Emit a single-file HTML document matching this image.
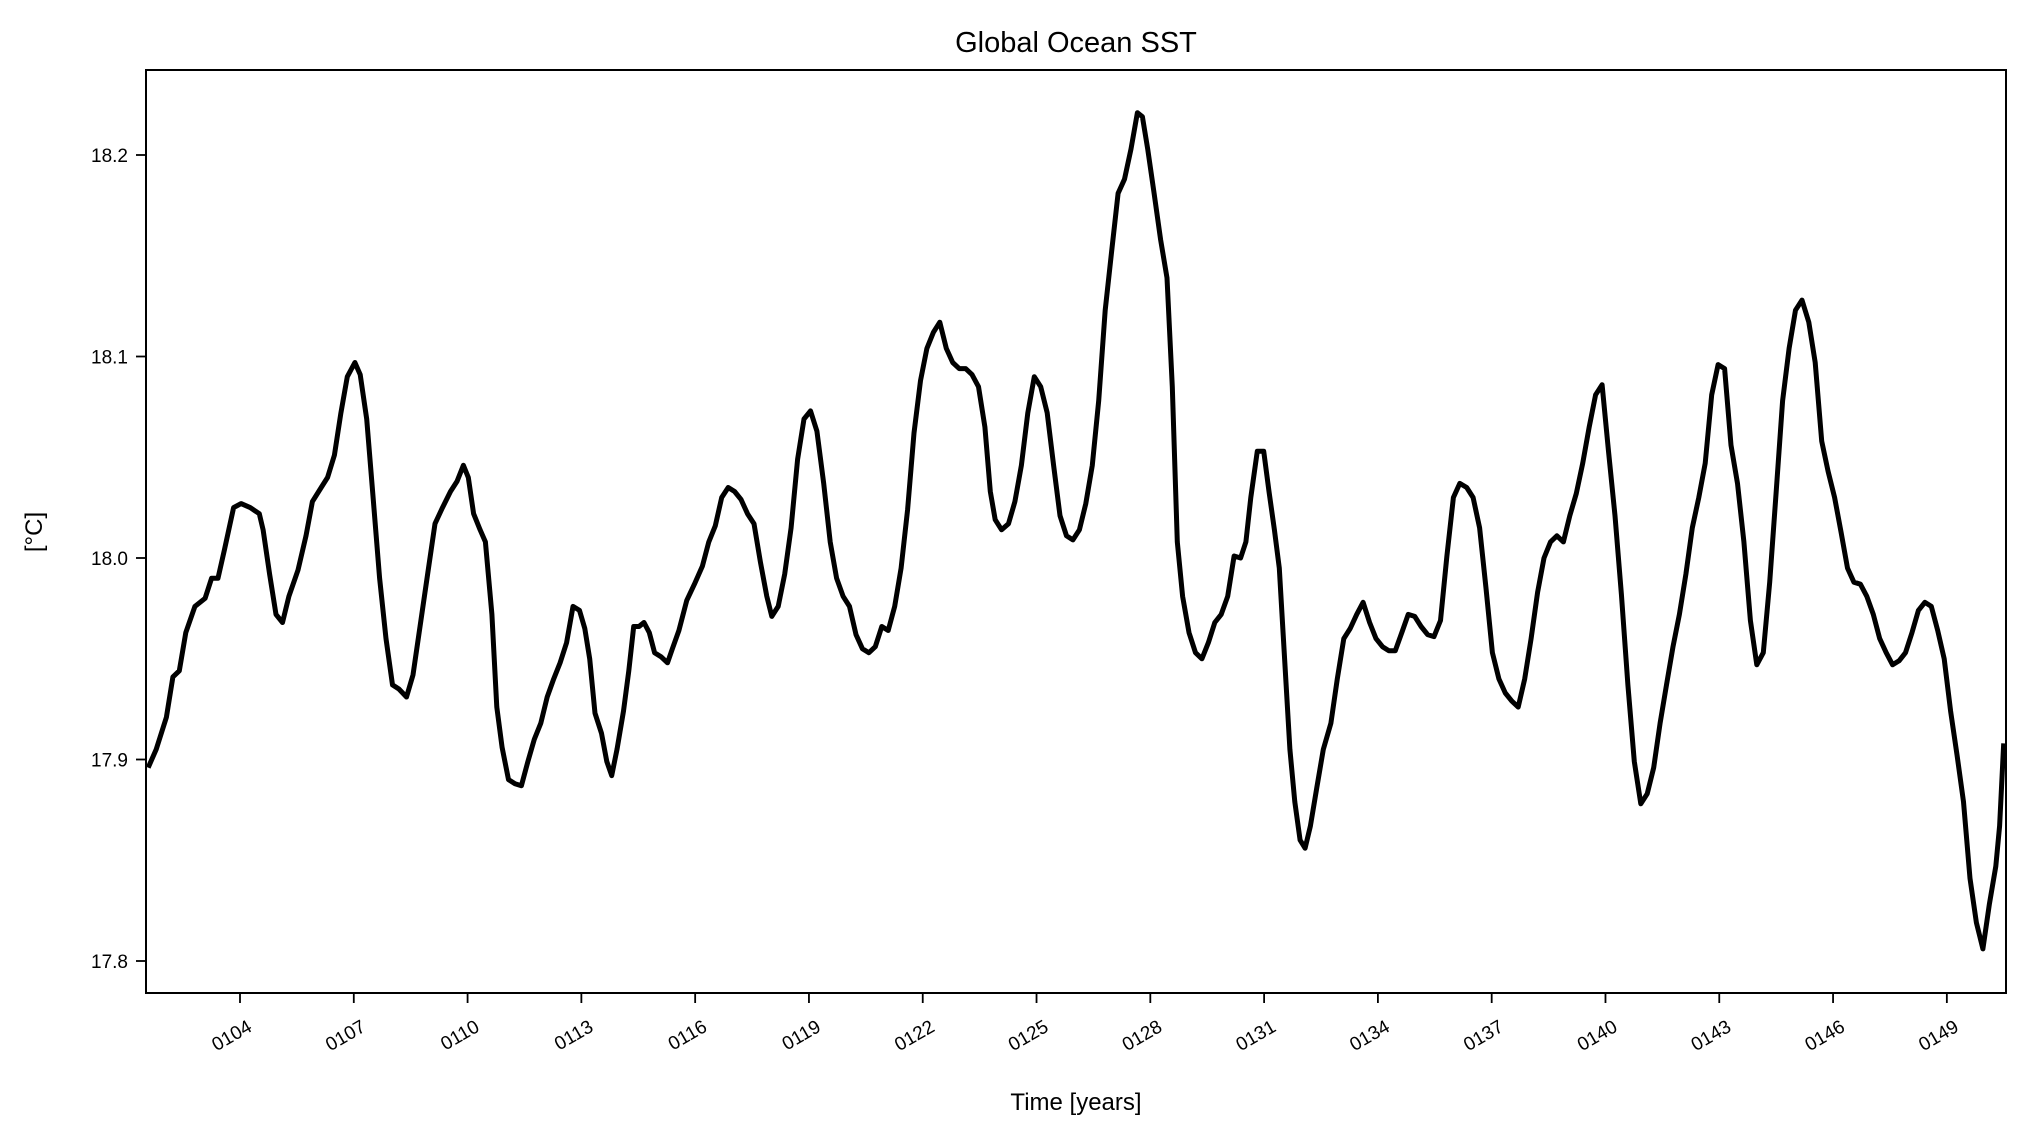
<!DOCTYPE html>
<html><head><meta charset="utf-8"><style>
html,body{margin:0;padding:0;background:#fff;}
svg{display:block;font-family:"Liberation Sans","DejaVu Sans",sans-serif;}
</style></head><body>
<svg id="chart" width="2026" height="1137" viewBox="0 0 2026 1137" xmlns="http://www.w3.org/2000/svg">
<rect width="2026" height="1137" fill="#fff"/>
<text x="1076" y="52" font-size="29" text-anchor="middle" fill="#000">Global Ocean SST</text>
<text x="1076" y="1110" font-size="24" text-anchor="middle" fill="#000">Time [years]</text>
<text transform="translate(42,532) rotate(-90)" font-size="24" text-anchor="middle" fill="#000">[°C]</text>
<g id="ticks"></g>
<g id="plot"></g>
<rect x="146" y="70" width="1860" height="923" fill="none" stroke="#000" stroke-width="2"/>
</svg>
<script>
const years = [101.58,101.79,102.06,102.23,102.40,102.57,102.81,103.08,103.25,103.42,103.59,103.83,104.03,104.27,104.51,104.61,104.78,104.95,105.12,105.29,105.53,105.74,105.91,106.14,106.31,106.49,106.66,106.83,107.03,107.17,107.34,107.51,107.68,107.85,108.02,108.19,108.39,108.56,108.77,108.97,109.14,109.34,109.55,109.72,109.89,110.02,110.16,110.33,110.47,110.64,110.77,110.91,111.08,111.25,111.42,111.59,111.76,111.93,112.10,112.27,112.44,112.61,112.78,112.95,113.09,113.22,113.36,113.53,113.67,113.80,113.94,114.11,114.25,114.38,114.52,114.65,114.79,114.93,115.10,115.27,115.40,115.57,115.78,115.98,116.19,116.36,116.53,116.70,116.87,117.04,117.21,117.38,117.55,117.72,117.89,118.02,118.19,118.36,118.53,118.70,118.87,119.04,119.21,119.39,119.56,119.73,119.90,120.07,120.24,120.41,120.58,120.75,120.92,121.09,121.26,121.43,121.60,121.77,121.94,122.11,122.28,122.45,122.62,122.79,122.96,123.13,123.30,123.47,123.64,123.78,123.91,124.08,124.26,124.43,124.60,124.77,124.94,125.11,125.28,125.45,125.62,125.79,125.96,126.13,126.30,126.47,126.64,126.81,126.98,127.15,127.32,127.49,127.66,127.79,127.93,128.10,128.27,128.44,128.58,128.71,128.85,129.02,129.19,129.36,129.53,129.70,129.87,130.04,130.21,130.38,130.52,130.65,130.82,130.99,131.13,131.27,131.40,131.54,131.68,131.81,131.95,132.08,132.22,132.39,132.56,132.76,132.93,133.10,133.27,133.44,133.61,133.78,133.95,134.12,134.29,134.46,134.63,134.80,134.97,135.14,135.31,135.48,135.65,135.82,135.99,136.16,136.34,136.51,136.68,136.85,137.02,137.19,137.36,137.53,137.70,137.87,138.04,138.21,138.38,138.55,138.72,138.89,139.06,139.23,139.40,139.57,139.74,139.91,140.08,140.25,140.42,140.59,140.76,140.93,141.10,141.27,141.44,141.61,141.78,141.95,142.12,142.29,142.46,142.63,142.80,142.97,143.14,143.31,143.48,143.65,143.82,143.99,144.16,144.33,144.50,144.67,144.84,145.01,145.18,145.36,145.53,145.70,145.87,146.04,146.21,146.38,146.55,146.72,146.89,147.06,147.23,147.40,147.57,147.74,147.91,148.08,148.25,148.42,148.59,148.76,148.93,149.10,149.27,149.44,149.61,149.78,149.95,150.12,150.29,150.39,150.50];
const sst = [17.896,17.905,17.921,17.941,17.944,17.963,17.976,17.980,17.990,17.990,18.004,18.025,18.027,18.025,18.022,18.014,17.992,17.972,17.968,17.981,17.994,18.011,18.028,18.035,18.040,18.051,18.072,18.090,18.097,18.091,18.069,18.030,17.990,17.960,17.937,17.935,17.931,17.942,17.969,17.995,18.017,18.025,18.033,18.038,18.046,18.040,18.022,18.014,18.008,17.972,17.926,17.906,17.890,17.888,17.887,17.899,17.910,17.918,17.931,17.940,17.948,17.958,17.976,17.974,17.965,17.950,17.923,17.913,17.899,17.892,17.905,17.924,17.944,17.966,17.966,17.968,17.963,17.953,17.951,17.948,17.955,17.964,17.979,17.987,17.996,18.008,18.016,18.030,18.035,18.033,18.029,18.022,18.017,17.998,17.981,17.971,17.976,17.992,18.015,18.049,18.069,18.073,18.063,18.037,18.008,17.990,17.981,17.976,17.962,17.955,17.953,17.956,17.966,17.964,17.976,17.995,18.024,18.062,18.088,18.104,18.112,18.117,18.104,18.097,18.094,18.094,18.091,18.085,18.065,18.033,18.019,18.014,18.017,18.028,18.046,18.072,18.090,18.085,18.072,18.046,18.021,18.011,18.009,18.014,18.027,18.046,18.078,18.123,18.152,18.181,18.188,18.203,18.221,18.219,18.203,18.181,18.158,18.139,18.085,18.008,17.981,17.963,17.953,17.950,17.958,17.968,17.972,17.981,18.001,18.000,18.008,18.030,18.053,18.053,18.033,18.014,17.995,17.950,17.905,17.879,17.860,17.856,17.867,17.886,17.905,17.918,17.940,17.960,17.965,17.972,17.978,17.968,17.960,17.956,17.954,17.954,17.963,17.972,17.971,17.966,17.962,17.961,17.969,18.001,18.030,18.037,18.035,18.030,18.015,17.985,17.953,17.940,17.933,17.929,17.926,17.940,17.960,17.983,18.000,18.008,18.011,18.008,18.021,18.032,18.047,18.065,18.081,18.086,18.053,18.021,17.982,17.937,17.899,17.878,17.883,17.896,17.918,17.937,17.956,17.972,17.992,18.015,18.030,18.047,18.081,18.096,18.094,18.056,18.037,18.008,17.969,17.947,17.953,17.988,18.033,18.078,18.104,18.123,18.128,18.117,18.097,18.058,18.043,18.030,18.013,17.995,17.988,17.987,17.981,17.972,17.960,17.953,17.947,17.949,17.953,17.963,17.974,17.978,17.976,17.964,17.950,17.924,17.902,17.879,17.841,17.819,17.806,17.828,17.847,17.867,17.908];
const xTickYears = [104,107,110,113,116,119,122,125,128,131,134,137,140,143,146,149];
const xTickLabels = ["0104","0107","0110","0113","0116","0119","0122","0125","0128","0131","0134","0137","0140","0143","0146","0149"];
const yTickValues = [17.8,17.9,18.0,18.1,18.2];
const yTickLabels = ["17.8","17.9","18.0","18.1","18.2"];

const NS = "http://www.w3.org/2000/svg";
function xScale(yr){ return 240 + (yr - 104) * 37.93; }
function yScale(v){ return 558 - (v - 18.0) * 2015; }
const ticksG = document.getElementById('ticks');
const plotG = document.getElementById('plot');

xTickYears.forEach((yr,i)=>{
  const x = xScale(yr);
  const t = document.createElementNS(NS,'line');
  
  
  t.setAttribute('x1',x); t.setAttribute('x2',x); t.setAttribute('y1',993); t.setAttribute('y2',1003);
  t.setAttribute('stroke','#000'); t.setAttribute('stroke-width','1.8');
  ticksG.appendChild(t);
  const lb = document.createElementNS(NS,'text');
  
  
  lb.setAttribute('transform','translate('+(x+6)+',1018) rotate(-30)');
  lb.setAttribute('text-anchor','end');
  lb.setAttribute('font-size','19');
  lb.setAttribute('dy','0.75em');
  lb.textContent = xTickLabels[i];
  ticksG.appendChild(lb);
});
yTickValues.forEach((v,i)=>{
  const y = yScale(v);
  const t = document.createElementNS(NS,'line');
  
  
  t.setAttribute('x1',136); t.setAttribute('x2',146); t.setAttribute('y1',y); t.setAttribute('y2',y);
  t.setAttribute('stroke','#000'); t.setAttribute('stroke-width','1.8');
  ticksG.appendChild(t);
  const lb = document.createElementNS(NS,'text');
  
  
  lb.setAttribute('x',128); lb.setAttribute('y',y+7);
  lb.setAttribute('text-anchor','end');
  lb.setAttribute('font-size','19');
  lb.textContent = yTickLabels[i];
  ticksG.appendChild(lb);
});
let d = '';
years.forEach((yr,i)=>{ d += (i? 'L':'M') + xScale(yr).toFixed(1) + ' ' + yScale(sst[i]).toFixed(1); });
const path = document.createElementNS(NS,'path');


path.setAttribute('d', d);
path.setAttribute('fill','none'); path.setAttribute('stroke','#000');
path.setAttribute('stroke-width','5'); path.setAttribute('stroke-linejoin','round');
plotG.appendChild(path);
</script>
</body></html>
